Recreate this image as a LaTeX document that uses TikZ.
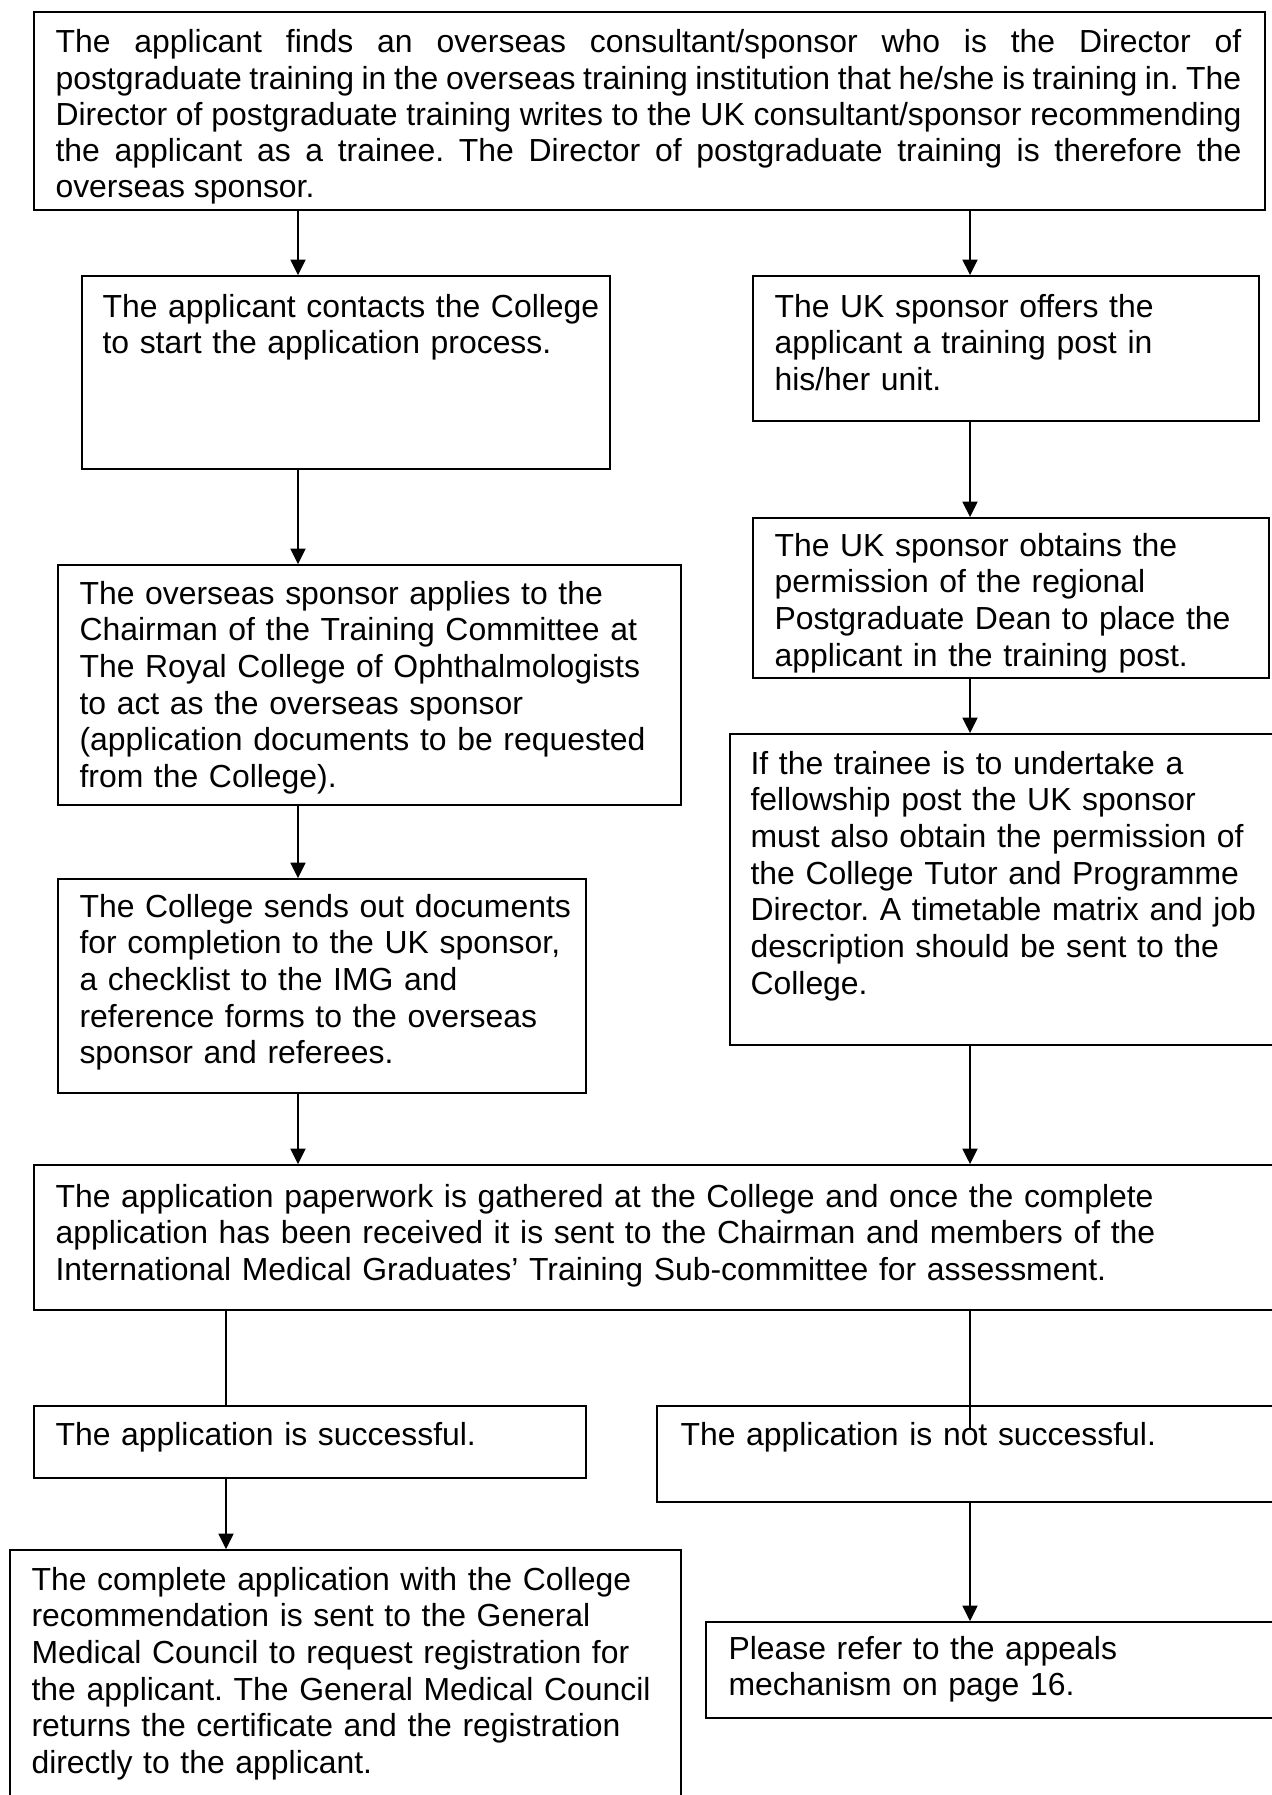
\documentclass[tikz,border=0pt]{standalone}
\usepackage{fontspec}
\setmainfont{Liberation Sans}
\usetikzlibrary{fit,arrows.meta}

\tikzset{
  stepbox/.style={draw, line width=0.7pt, inner sep=0pt},
  steptext/.style={anchor=base west, inner sep=0pt, align=left, text width=440pt,
    font=\fontsize{12}{13.8}\selectfont},
  flow/.style={line width=0.7pt, -{Triangle[length=5.8pt,width=5.6pt]}},
  link/.style={line width=0.7pt},
}

\begin{document}
\frenchspacing
\begin{tikzpicture}[x=0.376pt,y=-0.376pt]
\useasboundingbox (0,0) rectangle (1272,1795);
\clip (0,0) rectangle (1272,1795);

% columns of the connectors
\coordinate (lx) at (298,0);
\coordinate (rx) at (970,0);
\coordinate (sx) at (226,0);
\coordinate (stop) at (970,1429);

% boxes
\node[stepbox, fit={(34,12) (1265,210)}] (top) {};
\node[stepbox, fit={(82,276) (610,469)}] (a) {};
\node[stepbox, fit={(753,276) (1259,421)}] (b) {};
\node[stepbox, fit={(58,565) (681,805)}] (c) {};
\node[stepbox, fit={(753,518) (1269,678)}] (d) {};
\node[stepbox, fit={(730,734) (1290,1045)}] (e) {};
\node[stepbox, fit={(58,879) (586,1093)}] (f) {};
\node[stepbox, fit={(34,1165) (1290,1310)}] (g) {};
\node[stepbox, fit={(34,1406) (586,1478)}] (h) {};
\node[stepbox, fit={(657,1406) (1290,1502)}] (i) {};
\node[stepbox, fit={(10,1550) (681,1820)}] (k) {};
\node[stepbox, fit={(706,1622) (1290,1718)}] (j) {};

% texts
\node[steptext, align=justify, text width=445.9pt, font=\fontsize{12}{13.6}\selectfont] (top-t) at (55,53)
  {The applicant finds an overseas consultant/sponsor who is the Director of\linebreak
   postgraduate training in the overseas training institution that he/she is training in. The\linebreak
   Director of postgraduate training writes to the UK consultant/sponsor recommending\linebreak
   the applicant as a trainee. The Director of postgraduate training is therefore the\linebreak
   overseas sponsor.};
\node[steptext] (a-t) at (102,317)
  {The applicant contacts the College\\to start the application process.};
\node[steptext] (b-t) at (774,317)
  {The UK sponsor offers the\\applicant a training post in\\his/her unit.};
\node[steptext] (c-t) at (79,604)
  {The overseas sponsor applies to the\\Chairman of the Training Committee at\\The Royal College of Ophthalmologists\\to act as the overseas sponsor\\(application documents to be requested\\from the College).};
\node[steptext] (d-t) at (774,556)
  {The UK sponsor obtains the\\permission of the regional\\Postgraduate Dean to place the\\applicant in the training post.};
\node[steptext] (e-t) at (750,774)
  {If the trainee is to undertake a\\fellowship post the UK sponsor\\must also obtain the permission of\\the College Tutor and Programme\\Director. A timetable matrix and job\\description should be sent to the\\College.};
\node[steptext] (f-t) at (79,917)
  {The College sends out documents\\for completion to the UK sponsor,\\a checklist to the IMG and\\reference forms to the overseas\\sponsor and referees.};
\node[steptext] (g-t) at (55,1207)
  {The application paperwork is gathered at the College and once the complete\\application has been received it is sent to the Chairman and members of the\\International Medical Graduates’ Training Sub-committee for assessment.};
\node[steptext] (h-t) at (55,1445) {The application is successful.};
\node[steptext] (i-t) at (680,1445) {The application is not successful.};
\node[steptext] (k-t) at (31,1590)
  {The complete application with the College\\recommendation is sent to the General\\Medical Council to request registration for\\the applicant. The General Medical Council\\returns the certificate and the registration\\directly to the applicant.};
\node[steptext] (j-t) at (728,1659)
  {Please refer to the appeals\\mechanism on page 16.};

% connectors
\draw[flow] (top.south -| lx) -- (a.north -| lx);
\draw[flow] (top.south -| rx) -- (b.north -| rx);
\draw[flow] (a.south -| lx) -- (c.north -| lx);
\draw[flow] (b.south -| rx) -- (d.north -| rx);
\draw[flow] (c.south -| lx) -- (f.north -| lx);
\draw[flow] (d.south -| rx) -- (e.north -| rx);
\draw[flow] (f.south -| lx) -- (g.north -| lx);
\draw[flow] (e.south -| rx) -- (g.north -| rx);
\draw[link] (g.south -| sx) -- (h.north -| sx);
\draw[link] (g.south -| rx) -- (stop);
\draw[flow] (h.south -| sx) -- (k.north -| sx);
\draw[flow] (i.south -| rx) -- (j.north -| rx);
\end{tikzpicture}
\end{document}
